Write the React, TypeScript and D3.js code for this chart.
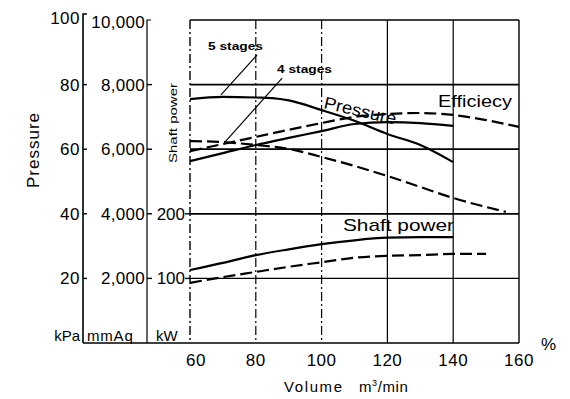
import * as d3 from 'd3';
import * as React from 'react';

// volume %, value
const xTicks = [60, 80, 100, 120, 140, 160];
const kpaTicks = [20, 40, 60, 80, 100];
const mmAqTicks = [2000, 4000, 6000, 8000, 10000];
const kwTicks = [100, 200];
const gridKpa = [20, 40, 60, 80];
const gridVol = [80, 100, 120, 140];

// pressure, kPa
const pressure5 = [[60, 75.5], [70, 76.2], [80, 76.0], [85, 75.8], [90, 75.1], [100, 72.1], [110, 68.8], [120, 64.7], [130, 61.3], [140, 56.0]];
const pressure4 = [[60, 62.5], [70, 62.2], [80, 61.3], [90, 60.1], [100, 57.6], [110, 54.8], [120, 51.7], [130, 48.3], [140, 44.9], [150, 42.1], [156, 40.6]];
// efficiency, %
const efficiency5 = [[60, 56.3], [70, 58.8], [80, 61.3], [90, 63.5], [100, 65.6], [110, 67.8], [120, 68.4], [130, 68.1], [140, 67.2]];
const efficiency4 = [[60, 59.4], [70, 61.6], [80, 63.8], [90, 66.0], [100, 68.1], [110, 70.0], [120, 70.9], [130, 71.2], [140, 70.6], [150, 69.0], [160, 66.9]];
// shaft power, kW
const power5 = [[60, 113], [70, 124], [80, 136], [90, 145], [100, 153], [110, 159], [120, 163], [130, 164], [140, 164]];
const power4 = [[60, 93], [70, 102], [80, 110], [90, 118], [100, 125], [110, 132], [120, 135], [130, 136], [140, 138], [150, 138]];

// leader lines for the stage labels, [vol, kPa]
const leader5 = [[80.4, 89.2], [69.4, 76.8]];
const leader4 = [[88.0, 82.0], [70.6, 62.2]];

const font = '"Liberation Sans", Arial, sans-serif';

const App = () => {
  const x = d3.scaleLinear().domain([60, 160]).range([190, 519]);
  const y = d3.scaleLinear().domain([0, 100]).range([343, 20]);
  const yMm = d3.scaleLinear().domain([0, 10000]).range([343, 20]);
  const yKw = d3.scaleLinear().domain([0, 500]).range([343, 20]);

  const line = (ys) => d3.line().x((d) => x(d[0])).y((d) => ys(d[1])).curve(d3.curveMonotoneX);
  const kpaLine = line(y);
  const kwLine = line(yKw);

  const left = x(60);
  const right = x(160);
  const top = y(100);
  const bottom = y(0);

  return (
    <div style={{ position: 'absolute', left: 0, top: 0 }}>
      <svg width={570} height={399} style={{ display: 'block', background: '#fff' }} fontFamily={font}>
        {/* grid */}
        {gridKpa.map((v) => (
          <line key={'h' + v} x1={left} x2={right} y1={y(v)} y2={y(v)} stroke="#000" strokeWidth={v === 20 ? 1.3 : 1.8} />
        ))}
        {gridVol.map((v) => (
          <line key={'v' + v} x1={x(v)} x2={x(v)} y1={top} y2={bottom} stroke="#000" strokeWidth={1.2} strokeDasharray={v <= 100 ? '9,3,2,3' : null} />
        ))}

        {/* frame */}
        <line x1={left} x2={right} y1={top} y2={top} stroke="#000" strokeWidth={1.6} />
        <line x1={right} x2={right} y1={top} y2={bottom} stroke="#000" strokeWidth={1.4} />
        <line x1={left} x2={left} y1={top} y2={bottom} stroke="#000" strokeWidth={1.4} strokeDasharray="9,3,2,3" />
        <line x1={83} x2={right} y1={bottom} y2={bottom} stroke="#000" strokeWidth={1.6} />

        {/* kPa axis */}
        <path d={`M87,${top - 6}H83V${bottom}`} fill="none" stroke="#000" strokeWidth={1.6} />
        {kpaTicks.slice(0, 4).map((v) => (
          <line key={'kt' + v} x1={83} x2={87} y1={y(v)} y2={y(v)} stroke="#000" strokeWidth={1.4} />
        ))}
        {kpaTicks.map((v) => (
          <text key={'kl' + v} x={80} y={y(v) - (v === 100 ? 2 : 0)} dy="0.35em" textAnchor="end" fontSize={17} letterSpacing={0.5}>
            {v}
          </text>
        ))}

        {/* mmAq axis */}
        <path d={`M151,${top}H147V${bottom}`} fill="none" stroke="#000" strokeWidth={1.2} />
        {mmAqTicks.slice(0, 4).map((v) => (
          <line key={'mt' + v} x1={147} x2={152} y1={yMm(v)} y2={yMm(v)} stroke="#000" strokeWidth={1.4} />
        ))}
        {mmAqTicks.map((v) => (
          <text key={'ml' + v} x={145} y={yMm(v) + (v === 10000 ? 2 : 0)} dy="0.35em" textAnchor="end" fontSize={17} letterSpacing={0.3}>
            {d3.format(',')(v)}
          </text>
        ))}

        {/* kW axis */}
        {kwTicks.map((v) => (
          <g key={'w' + v}>
            <line x1={185} x2={left} y1={yKw(v)} y2={yKw(v)} stroke="#000" strokeWidth={1.4} />
            <text x={185} y={yKw(v)} dy="0.35em" textAnchor="end" fontSize={17}>
              {v}
            </text>
          </g>
        ))}

        {/* unit labels */}
        <text x={80} y={341} textAnchor="end" fontSize={15}>kPa</text>
        <text x={87} y={341} fontSize={15} letterSpacing={0.8}>mmAq</text>
        <text x={156} y={341} fontSize={15}>kW</text>

        <text transform="translate(39,150) rotate(-90)" textAnchor="middle" fontSize={17} letterSpacing={1}>
          Pressure
        </text>
        <text transform="translate(177,123) rotate(-90)" textAnchor="middle" fontSize={10} textLength={80} lengthAdjust="spacingAndGlyphs">
          Shaft power
        </text>

        {/* x axis */}
        {xTicks.map((v) => (
          <text key={'x' + v} x={x(v) + (v === 60 ? 6 : 0)} y={366} textAnchor="middle" fontSize={17} letterSpacing={0.5}>
            {v}
          </text>
        ))}
        <text x={541} y={350} fontSize={17}>%</text>
        <text x={284} y={392} fontSize={15} letterSpacing={1.6}>Volume</text>
        <text x={359} y={392} fontSize={15} letterSpacing={0.6}>
          m<tspan fontSize={9} dy={-6}>3</tspan>
          <tspan dy={6}>/min</tspan>
        </text>

        {/* curves */}
        <g fill="none" stroke="#000">
          <path d={kpaLine(pressure5)} strokeWidth={2.2} />
          <path d={kpaLine(pressure4)} strokeWidth={2.2} strokeDasharray="12,5" />
          <path d={kpaLine(efficiency5)} strokeWidth={2.2} />
          <path d={kpaLine(efficiency4)} strokeWidth={2.2} strokeDasharray="12,5" />
          <path d={kwLine(power5)} strokeWidth={2.2} />
          <path d={kwLine(power4)} strokeWidth={2.2} strokeDasharray="12,5" />
          <path d={kpaLine.curve(d3.curveLinear)(leader5)} strokeWidth={1.2} />
          <path d={kpaLine.curve(d3.curveLinear)(leader4)} strokeWidth={1.2} />
        </g>

        {/* curve labels */}
        <text x={208} y={50} fontSize={11} fontWeight="bold" textLength={55} lengthAdjust="spacingAndGlyphs">5 stages</text>
        <text x={277} y={73} fontSize={11} fontWeight="bold" textLength={55} lengthAdjust="spacingAndGlyphs">4 stages</text>
        <text transform="translate(323,108) rotate(13)" fontSize={17} textLength={74} lengthAdjust="spacingAndGlyphs">
          Pressure
        </text>
        <text x={438} y={107} fontSize={17} textLength={74} lengthAdjust="spacingAndGlyphs">Efficiecy</text>
        <text x={343} y={231} fontSize={17} textLength={111} lengthAdjust="spacingAndGlyphs">Shaft power</text>
      </svg>
    </div>
  );
};

export default App;
